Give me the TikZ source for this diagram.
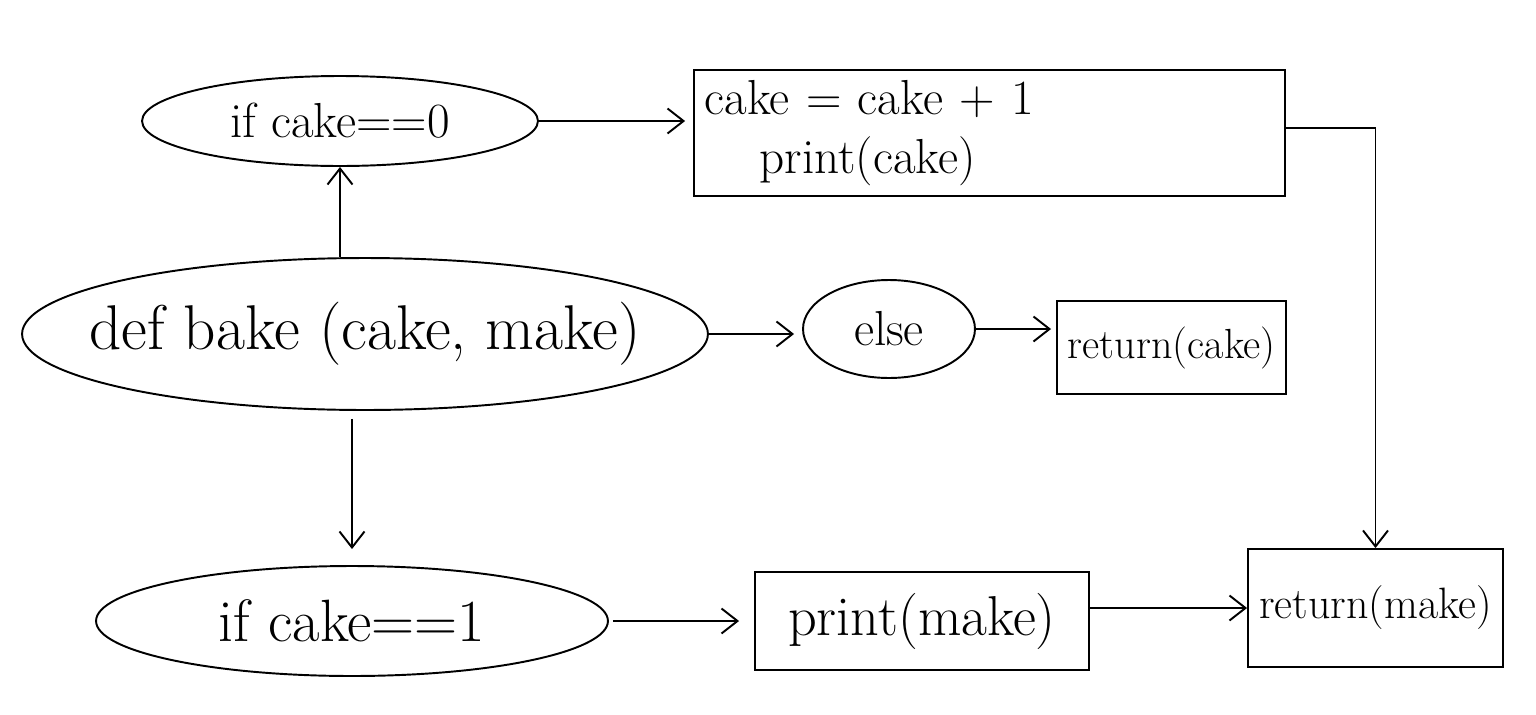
\documentclass[tikz,border=0pt]{standalone}
\usepackage{tikz}
\usetikzlibrary{positioning, shapes.geometric, arrows.meta}

\tikzset{
  oval/.style={draw, ellipse, inner sep=0pt, line width=1.1pt},
  box/.style={draw, rectangle, inner sep=0pt, line width=1.1pt},
  flow/.style={-{Straight Barb[length=3.2mm, width=5mm]}, line width=1.1pt},
  hand/.style={font=\fontsize{28}{34}\selectfont}
}

\begin{document}
\begin{tikzpicture}[x=0.02cm, y=-0.02cm]
            \useasboundingbox (0,0) rectangle (1536,714);
            % ovals
            \node[oval, hand, minimum width=7.92cm, minimum height=1.8cm] (ifzero) at (340,121) {if cake==0};
            \node[oval, font=\fontsize{36}{42}\selectfont, inner xsep=-0.8cm, minimum width=13.72cm, minimum height=3.04cm] (defn) at (365,334) {def bake (cake, make)};
            \node[oval, hand, minimum width=3.44cm, minimum height=1.96cm] (elsen) at (889,329) {else};
            \node[oval, font=\fontsize{34}{40}\selectfont, minimum width=10.24cm, minimum height=2.2cm] (ifone) at (352,621) {if cake==1};
            % boxes
            \node[box, hand, minimum width=11.82cm, minimum height=2.52cm, text width=11.4cm, align=left] (incr) at (989.5,133) {cake = cake + 1\\\hspace{1.1cm}print(cake)};
            \node[box, font=\fontsize{24}{28}\selectfont, minimum width=4.58cm, minimum height=1.86cm] (retcake) at (1171.5,347.5) {return(cake)};
            \node[box, font=\fontsize{32}{38}\selectfont, minimum width=6.68cm, minimum height=1.96cm] (printmake) at (922,621) {print(make)};
            \node[box, font=\fontsize{25}{30}\selectfont, minimum width=5.1cm, minimum height=2.36cm] (retmake) at (1375.5,608) {return(make)};
            % arrows
            \draw[flow] (defn.north -| ifzero.south) -- (ifzero.south);
            \draw[flow, shorten >=0.16cm] (ifzero.east) -- (ifzero.east -| incr.west);
            \draw[flow, shorten >=0.16cm] (defn.east) -- (defn.east -| elsen.west);
            \draw[flow, shorten >=0.1cm] (elsen.east) -- (elsen.east -| retcake.west);
            \draw[flow, shorten <=0.16cm, shorten >=0.32cm] (defn.south -| ifone.north) -- (ifone.north);
            \draw[flow, shorten <=0.08cm, shorten >=0.3cm] (ifone.east) -- (ifone.east -| printmake.west);
            \draw[flow] (printmake.east |- retmake.west) -- (retmake.west);
            \draw[flow] ([yshift=0.1cm]incr.east) -| (retmake.north);
        \end{tikzpicture}
\end{document}
